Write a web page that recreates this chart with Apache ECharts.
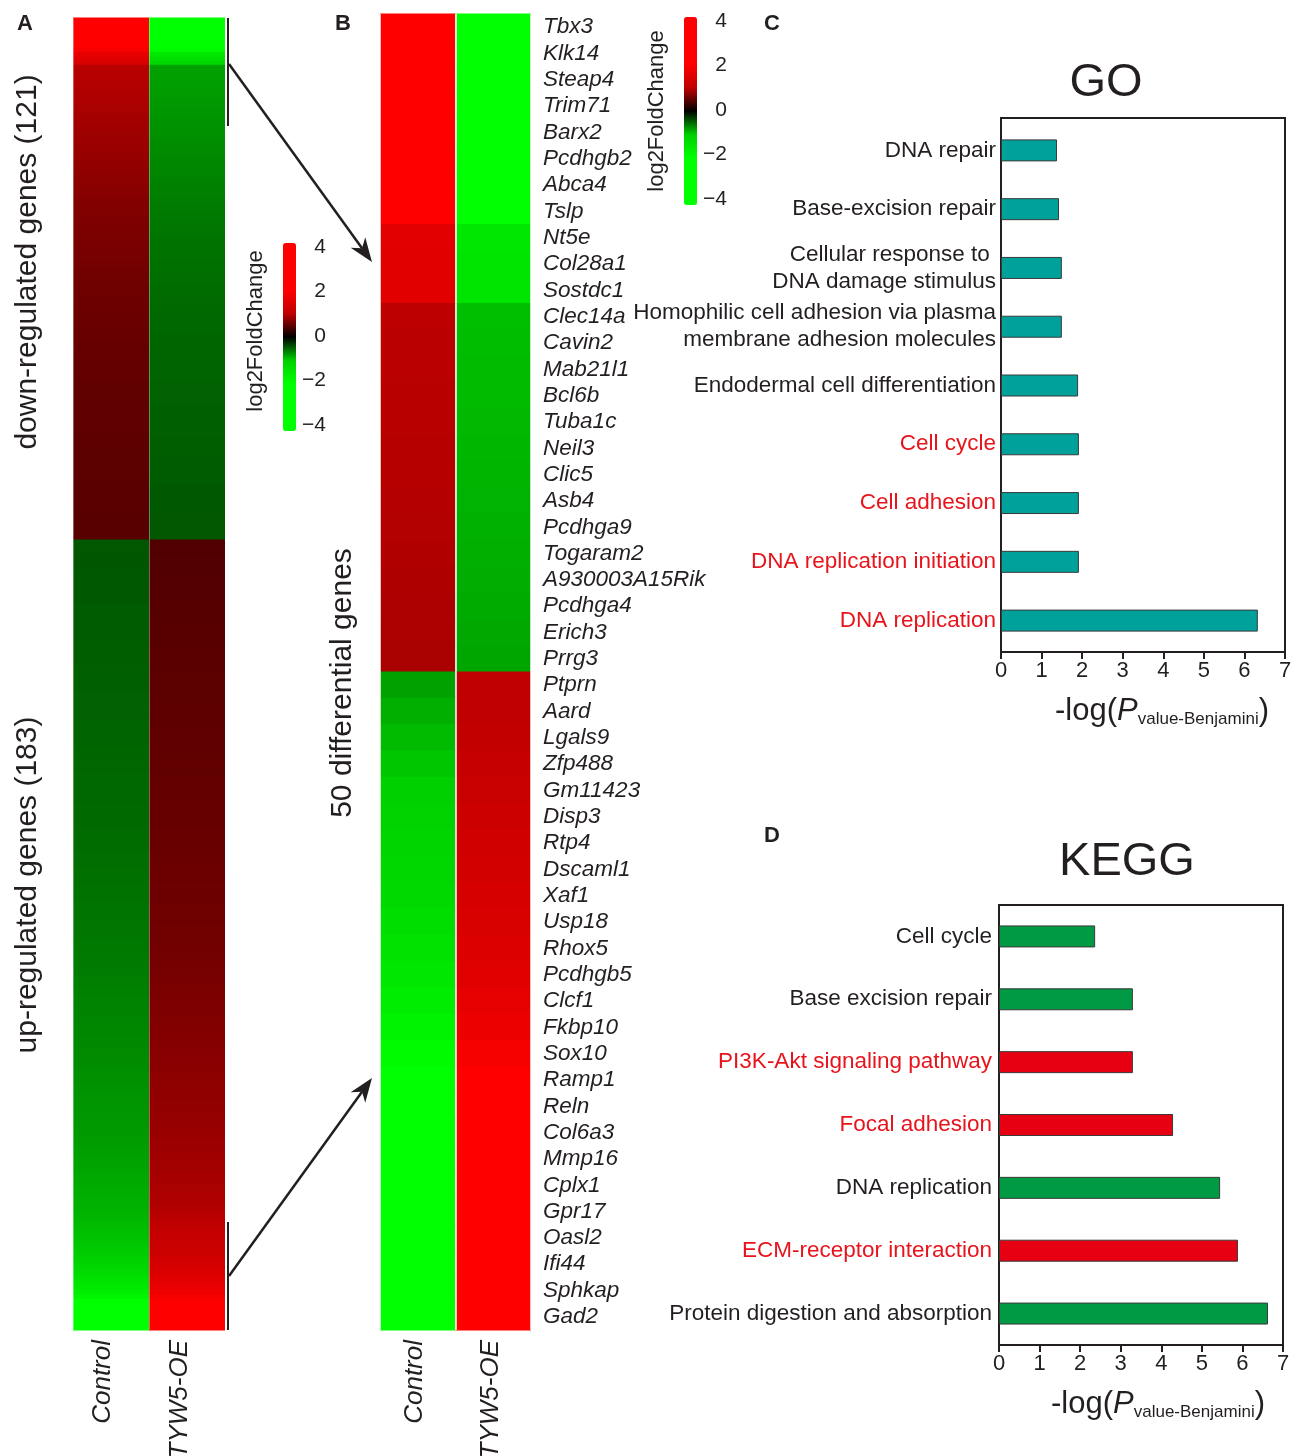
<!DOCTYPE html>
<html>
<head>
<meta charset="utf-8">
<script src="https://cdn.jsdelivr.net/npm/echarts@6/dist/echarts.min.js"></script>
<style>
  body { margin: 0; background: #fff; }
  #chart { width: 1296px; height: 1456px; }
</style>
</head>
<body>
<div id="chart"></div>
<script>
// ---- panel A: 121 down-regulated + 183 up-regulated genes (log2FoldChange) ----
const downControl = [
  2.6, 2.5, 2.4, 2.3, 2.2, 2.1, 2.0, 1.9,
  1.6, 1.5, 1.4,
  0.96, 0.95, 0.95, 0.94, 0.93, 0.92, 0.91, 0.91, 0.90, 0.89, 0.88, 0.87, 0.86, 0.85, 0.84, 0.83,
  0.82, 0.81, 0.80, 0.80, 0.79, 0.78, 0.77, 0.76, 0.75, 0.74, 0.73, 0.73, 0.72, 0.71, 0.70, 0.69, 0.68, 0.68, 0.67,
  0.66, 0.66, 0.65, 0.65, 0.64, 0.64, 0.63, 0.63, 0.62, 0.62, 0.61, 0.61, 0.60, 0.60, 0.59, 0.59, 0.58, 0.58, 0.57, 0.57, 0.57, 0.56, 0.56, 0.55, 0.55,
  0.55, 0.54, 0.54, 0.54, 0.53, 0.53, 0.53, 0.53, 0.52, 0.52, 0.52, 0.52, 0.52, 0.51, 0.51, 0.51, 0.51, 0.51, 0.50, 0.50, 0.50, 0.50, 0.50, 0.50, 0.50,
  0.49, 0.49, 0.49, 0.49, 0.49, 0.48, 0.48, 0.48, 0.48, 0.48, 0.48, 0.47, 0.47, 0.47, 0.47, 0.47, 0.47, 0.47, 0.46, 0.46, 0.46, 0.46, 0.46, 0.46, 0.46
]
const downTyw = [
  -2.6, -2.5, -2.4, -2.3, -2.2, -2.1, -2.0, -1.9,
  -1.5, -1.35, -1.2,
  -0.78, -0.77, -0.77, -0.76, -0.76, -0.75, -0.75, -0.74, -0.73, -0.73, -0.72, -0.72, -0.71, -0.70, -0.70, -0.69,
  -0.69, -0.68, -0.68, -0.67, -0.67, -0.66, -0.65, -0.65, -0.64, -0.64, -0.63, -0.62, -0.62, -0.61, -0.61, -0.60, -0.59, -0.59, -0.58,
  -0.58, -0.57, -0.57, -0.57, -0.56, -0.56, -0.56, -0.55, -0.55, -0.55, -0.54, -0.54, -0.54, -0.53, -0.53, -0.53, -0.52, -0.52, -0.52, -0.51, -0.51, -0.51, -0.50, -0.50, -0.50,
  -0.50, -0.50, -0.49, -0.49, -0.49, -0.49, -0.49, -0.48, -0.48, -0.48, -0.48, -0.48, -0.48, -0.47, -0.47, -0.47, -0.47, -0.47, -0.47, -0.46, -0.46, -0.46, -0.46, -0.46, -0.46,
  -0.46, -0.45, -0.45, -0.45, -0.45, -0.45, -0.44, -0.44, -0.44, -0.44, -0.44, -0.44, -0.43, -0.43, -0.43, -0.43, -0.43, -0.43, -0.43, -0.42, -0.42, -0.42, -0.42, -0.42, -0.42
]
const upControl = [
  -0.42, -0.42, -0.42, -0.42, -0.42, -0.42, -0.42, -0.43, -0.43, -0.43, -0.43, -0.43, -0.43, -0.43, -0.43, -0.44, -0.44, -0.44, -0.44, -0.44, -0.44,
  -0.44, -0.44, -0.45, -0.45, -0.45, -0.45, -0.45, -0.45, -0.46, -0.46, -0.46, -0.46, -0.46, -0.46, -0.47, -0.47, -0.47, -0.47, -0.47, -0.47, -0.47, -0.48, -0.48, -0.48, -0.48,
  -0.48, -0.48, -0.49, -0.49, -0.49, -0.49, -0.49, -0.49, -0.50, -0.50, -0.50, -0.50, -0.50, -0.50, -0.50, -0.51, -0.51, -0.51, -0.51, -0.51, -0.51, -0.52, -0.52, -0.52, -0.52,
  -0.52, -0.53, -0.53, -0.53, -0.53, -0.54, -0.54, -0.54, -0.54, -0.55, -0.55, -0.55, -0.55, -0.56, -0.56, -0.56, -0.56, -0.57, -0.57, -0.57, -0.57, -0.57, -0.58, -0.58, -0.58,
  -0.58, -0.59, -0.59, -0.60, -0.60, -0.61, -0.61, -0.61, -0.62, -0.62, -0.63, -0.63, -0.63, -0.64, -0.64, -0.64, -0.65, -0.65, -0.65, -0.66, -0.66, -0.66, -0.67, -0.67,
  -0.67, -0.68, -0.68, -0.69, -0.69, -0.69, -0.70, -0.70, -0.71, -0.71, -0.71, -0.72, -0.72, -0.72, -0.73, -0.73, -0.74, -0.74,
  -0.75, -0.75, -0.76, -0.77, -0.77, -0.78, -0.79, -0.79, -0.80, -0.81, -0.81, -0.82, -0.83, -0.83, -0.84, -0.85, -0.85,
  -0.86, -0.87, -0.88, -0.90, -0.91, -0.92, -0.93, -0.94, -0.96, -0.97, -0.98, -1.0,
  -1.06, -1.14, -1.22, -1.3, -1.38, -1.46, -1.55, -1.64,
  -1.8, -2.0, -2.2, -2.4, -2.5, -2.6, -2.7, -2.8
]
const upTyw = [
  0.42, 0.42, 0.42, 0.42, 0.43, 0.43, 0.43, 0.43, 0.43, 0.44, 0.44, 0.44, 0.44, 0.44, 0.45, 0.45, 0.45, 0.45, 0.45, 0.46, 0.46,
  0.46, 0.46, 0.46, 0.46, 0.47, 0.47, 0.47, 0.47, 0.47, 0.47, 0.48, 0.48, 0.48, 0.48, 0.48, 0.48, 0.49, 0.49, 0.49, 0.49, 0.49, 0.49, 0.50, 0.50, 0.50,
  0.50, 0.50, 0.50, 0.51, 0.51, 0.51, 0.51, 0.51, 0.51, 0.52, 0.52, 0.52, 0.52, 0.52, 0.52, 0.53, 0.53, 0.53, 0.53, 0.53, 0.53, 0.54, 0.54, 0.54, 0.54,
  0.54, 0.55, 0.55, 0.55, 0.55, 0.56, 0.56, 0.56, 0.56, 0.57, 0.57, 0.57, 0.57, 0.58, 0.58, 0.58, 0.58, 0.58, 0.59, 0.59, 0.59, 0.59, 0.60, 0.60, 0.60,
  0.60, 0.61, 0.61, 0.62, 0.62, 0.63, 0.63, 0.64, 0.64, 0.65, 0.65, 0.66, 0.66, 0.66, 0.67, 0.67, 0.68, 0.68, 0.69, 0.69, 0.70, 0.70, 0.71, 0.71,
  0.71, 0.72, 0.72, 0.73, 0.73, 0.74, 0.74, 0.75, 0.75, 0.75, 0.76, 0.76, 0.77, 0.77, 0.78, 0.78, 0.79, 0.79,
  0.80, 0.81, 0.81, 0.82, 0.83, 0.84, 0.85, 0.85, 0.86, 0.87, 0.88, 0.88, 0.89, 0.90, 0.91, 0.91, 0.92,
  0.94, 0.96, 0.98, 1.0, 1.03, 1.06, 1.09, 1.12, 1.15, 1.18, 1.21, 1.25,
  1.3, 1.36, 1.42, 1.48, 1.54, 1.6, 1.66, 1.73,
  1.85, 2.0, 2.2, 2.4, 2.5, 2.6, 2.7, 2.8
]

// ---- panel B: 50 differential genes ----
const genesB = [
  'Tbx3', 'Klk14', 'Steap4', 'Trim71', 'Barx2', 'Pcdhgb2', 'Abca4', 'Tslp', 'Nt5e', 'Col28a1',
  'Sostdc1', 'Clec14a', 'Cavin2', 'Mab21l1', 'Bcl6b', 'Tuba1c', 'Neil3', 'Clic5', 'Asb4', 'Pcdhga9',
  'Togaram2', 'A930003A15Rik', 'Pcdhga4', 'Erich3', 'Prrg3', 'Ptprn', 'Aard', 'Lgals9', 'Zfp488', 'Gm11423',
  'Disp3', 'Rtp4', 'Dscaml1', 'Xaf1', 'Usp18', 'Rhox5', 'Pcdhgb5', 'Clcf1', 'Fkbp10', 'Sox10',
  'Ramp1', 'Reln', 'Col6a3', 'Mmp16', 'Cplx1', 'Gpr17', 'Oasl2', 'Ifi44', 'Sphkap', 'Gad2'
]
const controlB = [
  3.2, 3.0, 2.9, 2.8, 2.7, 2.6, 2.5, 2.4, 1.55, 1.5,
  1.5, 0.98, 0.97, 0.97, 0.96, 0.96, 0.95, 0.95, 0.94, 0.93,
  0.92, 0.91, 0.90, 0.89, 0.88, -0.78, -0.84, -0.9, -0.95, -1.0,
  -1.05, -1.1, -1.15, -1.2, -1.3, -1.4, -1.5, -1.6, -1.75, -1.9,
  -2.1, -2.2, -2.3, -2.4, -2.5, -2.6, -2.7, -2.8, -2.9, -3.0
]
const tywB = [
  -3.2, -3.0, -2.9, -2.8, -2.7, -2.6, -2.5, -2.4, -1.5, -1.45,
  -1.45, -0.92, -0.91, -0.9, -0.9, -0.89, -0.88, -0.87, -0.86, -0.85,
  -0.84, -0.83, -0.82, -0.81, -0.8, 1.0, 1.0, 1.05, 1.1, 1.15,
  1.2, 1.25, 1.3, 1.35, 1.4, 1.45, 1.5, 1.6, 1.7, 1.85,
  2.0, 2.1, 2.2, 2.3, 2.4, 2.5, 2.6, 2.7, 2.8, 3.0
]
const samples = ['Control', 'TYW5-OE']
const colorTicks = [4, 2, 0, -2, -4]

// ---- panel C: GO ----
const goTerms = [
  'DNA repair', 'Base-excision repair', 'Cellular response to \nDNA damage stimulus',
  'Homophilic cell adhesion via plasma\nmembrane adhesion molecules', 'Endodermal cell differentiation',
  'Cell cycle', 'Cell adhesion', 'DNA replication initiation', 'DNA replication'
]
const goValues = [1.38, 1.43, 1.5, 1.5, 1.9, 1.92, 1.92, 1.92, 6.33]
const goRed = ['Cell cycle', 'Cell adhesion', 'DNA replication initiation', 'DNA replication']

// ---- panel D: KEGG ----
const keggTerms = [
  'Cell cycle', 'Base excision repair', 'PI3K-Akt signaling pathway', 'Focal adhesion',
  'DNA replication', 'ECM-receptor interaction', 'Protein digestion and absorption'
]
const keggValues = [2.37, 3.3, 3.3, 4.29, 5.45, 5.89, 6.63]
const keggRed = ['PI3K-Akt signaling pathway', 'Focal adhesion', 'ECM-receptor interaction']

const FONT = "'Liberation Sans', Arial, sans-serif"
const INK = '#231f20'
const RED_TXT = '#e8141c'
const heatColors = ['#00ff00', '#00ff00', '#00ff00', '#00d000', '#000000', '#c00000', '#ff0000', '#ff0000', '#ff0000']

const controlA = downControl.concat(upControl)
const tywA = downTyw.concat(upTyw)
const rowsA = controlA.map((v, i) => 'g' + (i + 1))

const heatA = []
controlA.forEach((v, i) => heatA.push([0, i, v]))
tywA.forEach((v, i) => heatA.push([1, i, v]))
const heatB = []
controlB.forEach((v, i) => heatB.push([0, i, v]))
tywB.forEach((v, i) => heatB.push([1, i, v]))

// heatmap cell, drawn a little taller so neighbouring rows leave no seams
function renderCell(params, api) {
  const p = api.coord([api.value(0), api.value(1)])
  const s = api.size([1, 1])
  return {
    type: 'rect',
    shape: { x: p[0] - s[0] / 2, y: p[1] - s[1] / 2 - 0.6, width: s[0], height: s[1] + 1.2 },
    style: { fill: api.visual('color') }
  }
}

function txt(x, y, s, font, opt) {
  opt = opt || {}
  return {
    type: 'text', x: x, y: y, rotation: opt.rot || 0, z: 20,
    style: {
      text: s, font: font, fill: opt.fill || INK,
      align: opt.align || 'center', verticalAlign: opt.va || 'middle',
      textAlign: opt.align || 'center', textVerticalAlign: opt.va || 'middle',
      rich: opt.rich
    }
  }
}

function arrow(x1, y1, x2, y2) {
  const dx = x2 - x1, dy = y2 - y1
  const len = Math.sqrt(dx * dx + dy * dy)
  const ux = dx / len, uy = dy / len
  const px = -uy, py = ux
  const bx = x2 - ux * 24, by = y2 - uy * 24
  const nx = x2 - ux * 17, ny = y2 - uy * 17
  return [
    { type: 'line', z: 20, shape: { x1: x1, y1: y1, x2: nx, y2: ny }, style: { stroke: INK, lineWidth: 2.5 } },
    { type: 'polygon', z: 20, shape: { points: [[x2, y2], [bx + px * 9, by + py * 9], [nx, ny], [bx - px * 9, by - py * 9]] },
      style: { fill: INK } }
  ]
}

function colorbarTicks(x, top, h) {
  return colorTicks.map(v => txt(x, top + 4 + (4 - v) / 8 * (h - 10), v < 0 ? '\u2212' + (-v) : String(v),
    '21px ' + FONT, { align: 'right' }))
}

const xTitleRich = {
  b: { fontSize: 31, fontFamily: FONT, color: INK, lineHeight: 34 },
  p: { fontSize: 31, fontFamily: FONT, fontStyle: 'italic', color: INK, lineHeight: 34 },
  s: { fontSize: 17, fontFamily: FONT, color: INK, lineHeight: 16, verticalAlign: 'bottom' }
}
const xTitle = '{b|-log(}{p|P}{s|value-Benjamini}{b|)}'

function termLabel(red) {
  return function (v) {
    const key = red.indexOf(v) >= 0 ? 'r' : 'k'
    return v.split('\n').map(line => '{' + key + '|' + line + '}').join('\n')
  }
}
const termRich = {
  k: { color: INK, fontSize: 22.5, fontFamily: FONT, lineHeight: 27 },
  r: { color: RED_TXT, fontSize: 22.5, fontFamily: FONT, lineHeight: 27 }
}

const valueAxisVisible = (grid) => ({
  type: 'value', gridIndex: grid, min: 0, max: 7, interval: 1,
  axisLine: { show: true, lineStyle: { color: INK, width: 2 } },
  axisTick: { show: true, length: 7, lineStyle: { color: INK, width: 2 } },
  axisLabel: { color: INK, fontSize: 22, fontFamily: FONT, margin: 8 },
  splitLine: { show: false }
})

const chart = echarts.init(document.getElementById('chart'))
chart.setOption({
  backgroundColor: '#fff',
  animation: false,
  grid: [
    { left: 73, top: 18, width: 152, height: 1312 },
    { left: 380, top: 14, width: 151, height: 1316 },
    { left: 1001, top: 118, width: 284, height: 534, show: true, borderColor: INK, borderWidth: 2 },
    { left: 1001, top: 121, width: 284, height: 529 },
    { left: 999, top: 905, width: 284, height: 440, show: true, borderColor: INK, borderWidth: 2 }
  ],
  xAxis: [
    { type: 'category', gridIndex: 0, data: samples, z: 5, axisLine: { show: false }, axisTick: { show: false },
      axisLabel: { show: false }, splitLine: { show: true, lineStyle: { color: 'rgba(255,255,255,0.35)', width: 1 } } },
    { type: 'category', gridIndex: 1, data: samples, z: 5, axisLine: { show: false }, axisTick: { show: false },
      axisLabel: { show: false }, splitLine: { show: true, lineStyle: { color: '#fff', width: 1.5 } } },
    valueAxisVisible(2),
    { type: 'value', gridIndex: 3, min: 0, max: 7, show: false },
    valueAxisVisible(4)
  ],
  yAxis: [
    { type: 'category', gridIndex: 0, data: rowsA, inverse: true, show: false },
    { type: 'category', gridIndex: 1, data: genesB, inverse: true, position: 'right',
      axisLine: { show: false }, axisTick: { show: false },
      axisLabel: { interval: 0, margin: 12, color: INK, fontSize: 22.5, fontStyle: 'italic', fontFamily: FONT } },
    { type: 'value', gridIndex: 2, show: false },
    { type: 'category', gridIndex: 3, data: goTerms, inverse: true,
      axisLine: { show: false }, axisTick: { show: false },
      axisLabel: { interval: 0, margin: 5, formatter: termLabel(goRed), rich: termRich } },
    { type: 'category', gridIndex: 4, data: keggTerms, inverse: true,
      axisLine: { show: false }, axisTick: { show: false },
      axisLabel: { interval: 0, margin: 7, formatter: termLabel(keggRed), rich: termRich } }
  ],
  visualMap: [
    { type: 'continuous', seriesIndex: 0, dimension: 2, min: -4, max: 4, left: 283, top: 243, itemWidth: 13, itemHeight: 188,
      padding: 0, calculable: false, hoverLink: false, text: null, inRange: { color: heatColors } },
    { type: 'continuous', seriesIndex: 1, dimension: 2, min: -4, max: 4, left: 684, top: 17, itemWidth: 13, itemHeight: 188,
      padding: 0, calculable: false, hoverLink: false, text: null, inRange: { color: heatColors } }
  ],
  series: [
    { type: 'custom', xAxisIndex: 0, yAxisIndex: 0, data: heatA, encode: { x: 0, y: 1 }, renderItem: renderCell },
    { type: 'custom', xAxisIndex: 1, yAxisIndex: 1, data: heatB, encode: { x: 0, y: 1 }, renderItem: renderCell },
    { type: 'bar', xAxisIndex: 3, yAxisIndex: 3, data: goValues, barWidth: 22,
      itemStyle: { color: '#00a19a', borderColor: '#3a3a3a', borderWidth: 1 } },
    { type: 'bar', xAxisIndex: 4, yAxisIndex: 4, barWidth: 22,
      data: keggValues.map((v, i) => ({
        value: v,
        itemStyle: { color: keggRed.indexOf(keggTerms[i]) >= 0 ? '#e60012' : '#009a44' }
      })),
      itemStyle: { borderColor: '#3a3a3a', borderWidth: 1 } }
  ],
  graphic: {
    elements: [
      // panel letters
      txt(25, 24, 'A', 'bold 22px ' + FONT),
      txt(343, 24, 'B', 'bold 22px ' + FONT),
      txt(772, 24, 'C', 'bold 22px ' + FONT),
      txt(772, 836, 'D', 'bold 22px ' + FONT),
      // side labels
      txt(28, 262, 'down-regulated genes (121)', '30px ' + FONT, { rot: Math.PI / 2 }),
      txt(28, 885, 'up-regulated genes (183)', '30px ' + FONT, { rot: Math.PI / 2 }),
      txt(343, 683, '50 differential genes', '30px ' + FONT, { rot: Math.PI / 2 }),
      // colorbar titles and ticks
      txt(256, 331, 'log2FoldChange', '22px ' + FONT, { rot: Math.PI / 2 }),
      txt(657, 111, 'log2FoldChange', '22px ' + FONT, { rot: Math.PI / 2 }),
      ...colorbarTicks(326, 243, 188),
      ...colorbarTicks(727, 17, 188),
      // sample labels
      txt(103, 1340, 'Control', 'italic 26px ' + FONT, { rot: Math.PI / 2, align: 'right' }),
      txt(180, 1340, 'TYW5-OE', 'italic 26px ' + FONT, { rot: Math.PI / 2, align: 'right' }),
      txt(415, 1340, 'Control', 'italic 26px ' + FONT, { rot: Math.PI / 2, align: 'right' }),
      txt(491, 1340, 'TYW5-OE', 'italic 26px ' + FONT, { rot: Math.PI / 2, align: 'right' }),
      // brackets and arrows
      { type: 'line', z: 20, shape: { x1: 228, y1: 18, x2: 228, y2: 126 }, style: { stroke: INK, lineWidth: 2 } },
      { type: 'line', z: 20, shape: { x1: 228, y1: 1222, x2: 228, y2: 1330 }, style: { stroke: INK, lineWidth: 2 } },
      ...arrow(229, 64, 372, 262),
      ...arrow(229, 1276, 372, 1078),
      // chart titles
      txt(1106, 83, 'GO', '47px ' + FONT),
      txt(1127, 862, 'KEGG', '47px ' + FONT),
      txt(1162, 711, xTitle, '31px ' + FONT, { rich: xTitleRich }),
      txt(1158, 1404, xTitle, '31px ' + FONT, { rich: xTitleRich })
    ]
  }
})
</script>
</body>
</html>
